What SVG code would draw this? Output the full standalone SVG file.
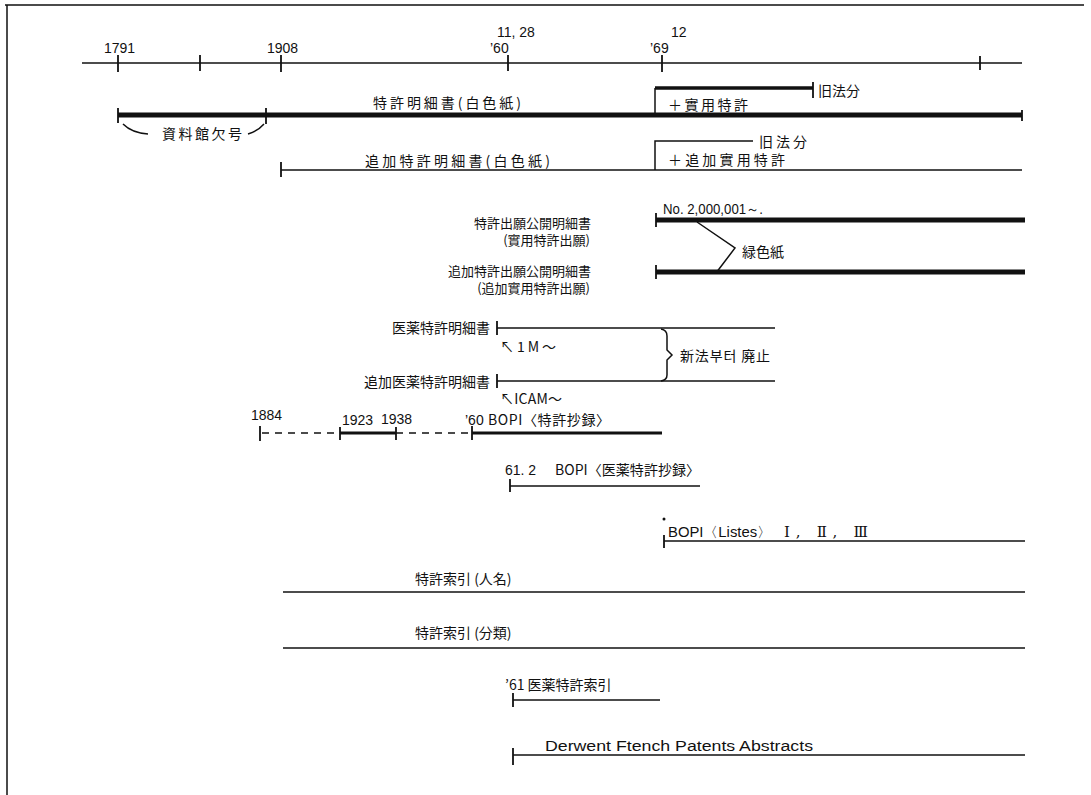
<svg xmlns="http://www.w3.org/2000/svg" width="1091" height="795" viewBox="0 0 1091 795">
<style>
.j{font-family:"Noto Sans CJK JP","Noto Sans CJK SC",sans-serif;font-size:14px;fill:#111}
.s{font-family:"Noto Sans CJK JP","Noto Sans CJK SC",sans-serif;font-size:13px;fill:#111}
.n{font-family:"Liberation Sans",Arial,sans-serif;font-size:14px;fill:#111}
.ln{stroke:#111;stroke-width:1.5;fill:none}
.th{stroke:#111;stroke-width:5;fill:none}
.tk{stroke:#111;stroke-width:1.8;fill:none}
.ds{stroke:#111;stroke-width:1.5;fill:none;stroke-dasharray:7 6}
</style>
<rect width="1091" height="795" fill="#fff"/>
<g id="frame">
<path class="ln" d="M5,5 H1084 M7,5 V795"/>
</g>
<g id="axis">
<path class="ln" d="M82,63 H1022"/>
<path class="tk" d="M118,55 V72 M200,55 V71 M281,55 V72 M508,55 V71 M662,55 V72 M980,56 V70"/>
<text class="n" x="104" y="53">1791</text>
<text class="n" x="267" y="53">1908</text>
<text class="n" x="497" y="37">11, 28</text>
<text class="n" x="490" y="53">’60</text>
<text class="n" x="671" y="37">12</text>
<text class="n" x="650" y="53">’69</text>
</g>
<g id="row-patent">
<text class="j" x="373" y="108" textLength="148" lengthAdjust="spacing">特許明細書(白色紙)</text>
<path class="th" d="M118,115 H1022"/>
<path class="tk" d="M118,108 V123 M266,108 V124 M1022,110 V121"/>
<path class="ln" d="M123,124 Q132,133 148,134 M248,134 Q258,131 264,124"/>
<text class="j" x="162" y="139" textLength="80" lengthAdjust="spacing">資料館欠号</text>
<path stroke="#111" stroke-width="3.5" fill="none" d="M655,88 H813"/>
<path class="ln" d="M655,88 V113"/>
<path class="tk" d="M813,82 V98"/>
<text class="j" x="818" y="96" textLength="42" lengthAdjust="spacing">旧法分</text>
<text class="j" x="668" y="110" textLength="80" lengthAdjust="spacing">＋實用特許</text>
</g>
<g id="row-addpatent">
<text class="j" x="365" y="166" textLength="185" lengthAdjust="spacing">追加特許明細書(白色紙)</text>
<path class="ln" d="M281,170 H1022"/>
<path class="tk" d="M281,162 V177"/>
<path class="ln" d="M655,170 V141 H753"/>
<text class="j" x="759" y="147" textLength="48" lengthAdjust="spacing">旧法分</text>
<text class="j" x="668" y="165" textLength="117" lengthAdjust="spacing">＋追加實用特許</text>
</g>
<g id="row-publication">
<text class="n" x="663" y="214" textLength="100" lengthAdjust="spacingAndGlyphs">No. 2,000,001～.</text>
<text class="s" x="591" y="228" text-anchor="end">特許出願公開明細書</text>
<text class="s" x="590" y="245" text-anchor="end">(實用特許出願)</text>
<path class="th" d="M656,220 H1025"/>
<path class="tk" d="M656,213 V227"/>
</g>
<g id="row-addpublication">
<text class="s" x="591" y="276" text-anchor="end">追加特許出願公開明細書</text>
<text class="s" x="590" y="293" text-anchor="end">(追加實用特許出願)</text>
<path class="th" d="M656,272 H1025"/>
<path class="tk" d="M656,265 V279"/>
</g>
<g id="green-note">
<path class="ln" d="M697,222 L735,248 L716,273"/>
<text class="j" x="742" y="257">緑色紙</text>
</g>
<g id="row-medical">
<text class="j" x="490" y="333" text-anchor="end">医薬特許明細書</text>
<path class="ln" d="M497,328 H775"/>
<path class="tk" d="M497,321 V335"/>
<text class="j" x="500" y="352" textLength="56" lengthAdjust="spacing">↖1M～</text>
</g>
<g id="row-addmedical">
<text class="j" x="490" y="387" text-anchor="end">追加医薬特許明細書</text>
<path class="ln" d="M497,381 H775"/>
<path class="tk" d="M497,374 V388"/>
<text class="j" x="500" y="404" textLength="62" lengthAdjust="spacing">↖ICAM～</text>
</g>
<g id="abolished-note">
<path class="ln" d="M661,329 Q667,330 667,336 V350 L672,355 L667,360 V375 Q667,380 661,381"/>
<text class="j" x="680" y="361" textLength="90" lengthAdjust="spacing">新法부터 廃止</text>
</g>
<g id="row-bopi">
<text class="n" x="251" y="420">1884</text>
<text class="n" x="342" y="425">1923</text>
<text class="n" x="381" y="424">1938</text>
<text class="n" x="465" y="425">’60</text>
<text class="j" x="488" y="425" textLength="122" lengthAdjust="spacing">BOPI〈特許抄録〉</text>
<path class="ds" d="M262,433 H340 M396,433 H470"/>
<path stroke="#111" stroke-width="3" fill="none" d="M340,433 H396 M472,433 H662"/>
<path class="tk" d="M260,426 V441 M340,427 V440 M396,427 V440 M472,426 V440"/>
</g>
<g id="row-bopi-med">
<text class="n" x="505" y="475">61. 2</text>
<text class="j" x="555" y="475" textLength="145" lengthAdjust="spacing">BOPI〈医薬特許抄録〉</text>
<path class="ln" d="M510,486 H700"/>
<path class="tk" d="M510,479 V492"/>
</g>
<g id="row-bopi-listes">
<circle cx="664" cy="519" r="1.5" fill="#111"/>
<text class="n" x="668" y="537" font-size="16" textLength="104" lengthAdjust="spacingAndGlyphs">BOPI〈Listes〉</text>
<text x="784" y="537" font-family="DejaVu Serif" font-size="15" fill="#111" textLength="84" lengthAdjust="spacing">Ⅰ, Ⅱ, Ⅲ</text>
<path class="ln" d="M664,541 H1025"/>
<path class="tk" d="M664,535 V548"/>
</g>
<g id="row-index-name">
<text class="j" x="415" y="584">特許索引 (人名)</text>
<path class="ln" stroke-width="1.8" d="M283,592 H1025"/>
</g>
<g id="row-index-class">
<text class="j" x="415" y="638">特許索引 (分類)</text>
<path class="ln" stroke-width="1.8" d="M283,648 H1025"/>
</g>
<g id="row-index-med">
<text class="j" x="505" y="690">’61 医薬特許索引</text>
<path class="ln" d="M513,700 H660"/>
<path class="tk" d="M513,693 V707"/>
</g>
<g id="row-derwent">
<text class="n" x="545" y="751" font-size="16.5" textLength="268" lengthAdjust="spacingAndGlyphs">Derwent Ftench Patents Abstracts</text>
<path class="ln" d="M513,755 H1025"/>
<path class="tk" d="M513,748 V765"/>
</g>
</svg>
